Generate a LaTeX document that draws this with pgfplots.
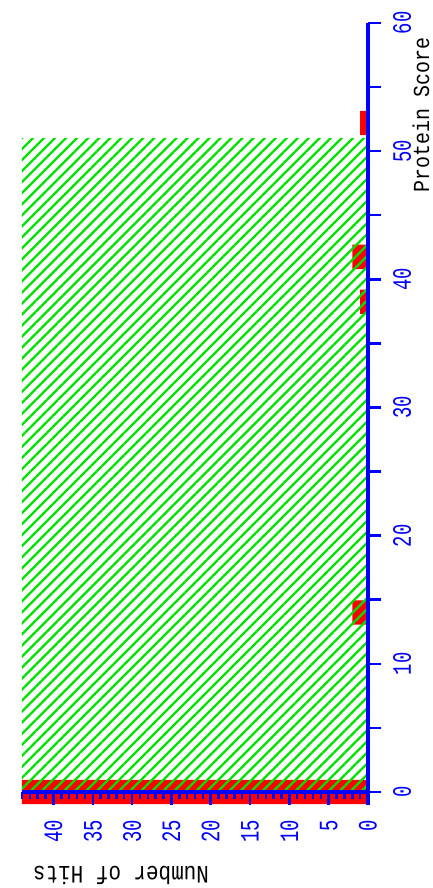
\documentclass[border=0pt]{standalone}
\usepackage{fontspec}
\setmainfont{Liberation Mono}
\usepackage{graphicx}
\usepackage{pgfplots}
\pgfplotsset{compat=1.18}
\usetikzlibrary{patterns.meta}
\definecolor{hitred}{RGB}{255,0,0}
\definecolor{axblue}{RGB}{0,0,255}
\definecolor{hatchgreen}{RGB}{0,225,0}
\begin{document}
\begin{tikzpicture}
\useasboundingbox (0,0) rectangle (433bp,888bp);
\begin{axis}[
  at={(22bp,96bp)}, anchor=south west,
  scale only axis, width=346bp, height=769bp,
  x dir=reverse,
  xmin=0, xmax=44, ymin=0, ymax=60,
  axis x line*=bottom,
  axis y line*=right,
  axis line style={-, axblue, line width=4bp},
  axis on top,
  clip=false,
  xtick={0,5,...,40},
  minor xtick={0,1,...,44},
  ytick={0,10,...,60},
  extra y ticks={5,15,...,55},
  extra y tick labels={},
  tick align=outside,
  major tick length=13bp,
  minor tick length=7bp,
  tick style={axblue, line width=2.5bp},
  /pgf/number format/assume math mode=true,
  tick label style={font=\fontsize{19}{19}\selectfont, text=axblue, inner sep=0pt},
  xticklabel style={rotate=90, anchor=east},
  yticklabel style={rotate=90, anchor=north},
  xticklabel shift=15bp,
  yticklabel shift=12bp,
  xticklabel={\scalebox{1}[1.4]{\pgfmathprintnumber{\tick}}},
  yticklabel={\scalebox{1}[1.4]{\pgfmathprintnumber{\tick}}},
]
\addplot[xbar, bar width=1.9, fill=hitred, draw=none] coordinates {(44,0) (2,14) (1,38.25) (2,41.75) (1,52.2)};
\addplot[draw=none, pattern={Lines[angle=45,distance=7.8bp,line width=2.3bp]}, pattern color=hatchgreen, fill opacity=0.75] coordinates {(0,51) (44,51)} \closedcycle;
\draw[axblue, line width=4bp] (axis cs:0,0) -- (axis cs:0,-1);
\end{axis}
\node[rotate=90, font=\fontsize{20}{20}\selectfont] at (421bp,773bp) {\scalebox{1}[1.15]{Protein Score}};
\node[rotate=180, font=\fontsize{21}{21}\selectfont] at (121bp,13bp) {\scalebox{1}[1.2]{Number of Hits}};
\end{tikzpicture}
\end{document}
